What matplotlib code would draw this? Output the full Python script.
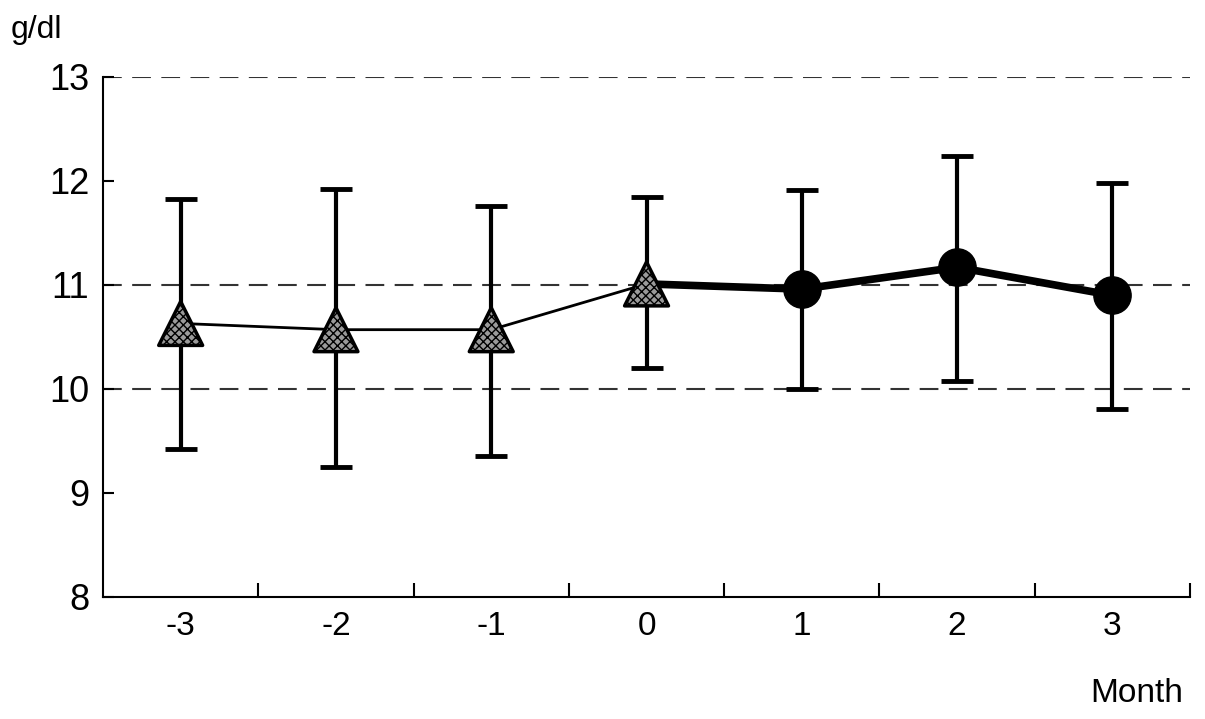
import numpy as np
import matplotlib
matplotlib.use("Agg")
import matplotlib.pyplot as plt
from matplotlib.ticker import FixedLocator

plt.rcParams['font.family'] = ['Liberation Sans', 'DejaVu Sans']

months = ['-3', '-2', '-1', '0', '1', '2', '3']
hb_mean = [10.63, 10.57, 10.57, 11.01, 10.96, 11.17, 10.90]
hb_upper = [11.83, 11.92, 11.76, 11.85, 11.91, 12.24, 11.98]
hb_lower = [9.42, 9.25, 9.36, 10.20, 10.00, 10.08, 9.81]
ref_lines = [13, 11, 10]
y_ticks = [8, 9, 10, 11, 12, 13]

x = np.arange(len(months))
mean = np.array(hb_mean)
err = [mean - np.array(hb_lower), np.array(hb_upper) - mean]

fig = plt.figure(figsize=(12.05, 7.19), dpi=100)
ax = fig.add_axes([0.0855, 0.1697, 0.9021, 0.7233])

# reference dashed lines
for yv in ref_lines:
    ax.axhline(yv, color='#333333', lw=1.5, dashes=(9, 5), zorder=1)

# error bars
ax.errorbar(x, mean, yerr=err, fmt='none', ecolor='black', elinewidth=3,
            capsize=11.5, capthick=3.5, zorder=2)

# connecting lines: thin before month 0, thick after
ax.plot(x[:4], mean[:4], color='black', lw=2, zorder=3)
ax.plot(x[3:], mean[3:], color='black', lw=5.5, zorder=3)

# markers
ax.scatter(x[:4], mean[:4], marker='^', s=1000, facecolor='#9a9a9a',
           edgecolor='black', hatch='xxxx', linewidths=2.5, zorder=4)
ax.scatter(x[4:], mean[4:], marker='o', s=720, color='black', zorder=4)

ax.set_xlim(-0.5, len(months) - 0.5)
ax.set_ylim(8, 13)

ax.spines['top'].set_visible(False)
ax.spines['right'].set_visible(False)
ax.spines['left'].set_linewidth(1.5)
ax.spines['bottom'].set_linewidth(1.5)

ax.set_yticks(y_ticks)
ax.set_yticklabels([str(v) for v in y_ticks])
ax.tick_params(axis='y', direction='in', length=8, width=1.5, labelsize=26, pad=10)

ax.set_xticks(x)
ax.set_xticklabels(months)
ax.tick_params(axis='x', which='major', length=0, labelsize=24, pad=10)
ax.xaxis.set_minor_locator(FixedLocator(np.arange(0.5, len(months) + 0.5, 1)))
ax.tick_params(axis='x', which='minor', direction='in', length=10, width=1.5)

fig.text(0.009, 0.958, 'g/dl', fontsize=23, ha='left', va='center')
fig.text(0.982, 0.036, 'Month', fontsize=24, ha='right', va='center')

fig.savefig('out.png', dpi=100)
